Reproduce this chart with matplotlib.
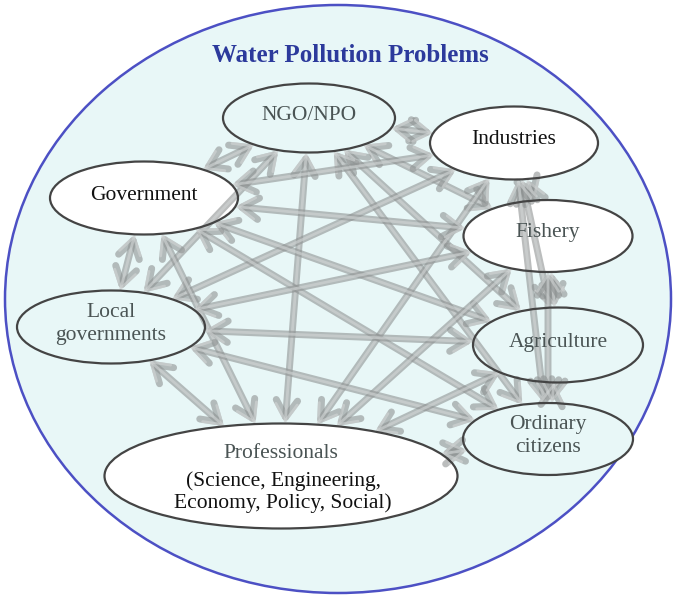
import numpy as np
import matplotlib
matplotlib.use('Agg')
import matplotlib.pyplot as plt
from matplotlib.patches import Ellipse, FancyArrowPatch

# stakeholder nodes (centre x, centre y, width, height) in picture pixels
names = ['NGO/NPO', 'Industries', 'Government', 'Fishery', 'Local\ngovernments',
         'Agriculture', 'Ordinary\ncitizens', 'Professionals']
node_x = [309, 514, 144, 548, 111, 558, 548, 281]
node_y = [118, 143, 198, 236, 327, 345, 439, 476]
node_w = [172, 168, 188, 169, 188, 170, 170, 353]
node_h = [69, 73, 73, 72, 73, 75, 72, 105]
white_fill = [False, True, True, True, False, False, False, True]
dark_text = [False, True, True, False, False, False, False, False]

# every stakeholder is linked to every other one
edges = [(i, j) for i in range(len(names)) for j in range(i + 1, len(names))]

title = 'Water Pollution Problems'
pro_sub = ['(Science, Engineering,', 'Economy, Policy, Social)']

bg = '#e8f7f7'
fig = plt.figure(figsize=(6.74, 5.96), dpi=100)
ax = fig.add_axes([0, 0, 1, 1])
ax.set_xlim(0, 674)
ax.set_ylim(596, 0)
ax.axis('off')

ax.add_patch(Ellipse((338, 299), 666, 588, facecolor=bg, edgecolor='#4c50c4', lw=1.8))
ax.text(350, 55, title, ha='center', va='center', fontsize=18, fontweight='bold',
        color='#2c3a9c', family='Liberation Serif')

for k in range(len(names)):
    ax.add_patch(Ellipse((node_x[k], node_y[k]), node_w[k], node_h[k],
                         facecolor='white' if white_fill[k] else bg, edgecolor='none', zorder=1))


def edge_point(k, tx, ty):
    dx, dy = tx - node_x[k], ty - node_y[k]
    a, b = node_w[k] / 2, node_h[k] / 2
    t = 1 / np.sqrt((dx / a) ** 2 + (dy / b) ** 2)
    return node_x[k] + dx * t, node_y[k] + dy * t


for i, j in edges:
    p = edge_point(i, node_x[j], node_y[j])
    q = edge_point(j, node_x[i], node_y[i])
    for lw, col in [(5.0, '#8e9292'), (2.0, '#d2d6d6')]:
        ax.add_patch(FancyArrowPatch(p, q, arrowstyle='<->,head_length=5.5,head_width=3.5',
                                     mutation_scale=2.2, lw=lw, color=col, alpha=0.6,
                                     shrinkA=0, shrinkB=0, zorder=2))

for k in range(len(names)):
    ax.add_patch(Ellipse((node_x[k], node_y[k]), node_w[k], node_h[k],
                         facecolor='none', edgecolor='#444444', lw=1.6, zorder=3))
    y = node_y[k] - 3
    if k == 7:
        y = node_y[k] - 22
    ax.text(node_x[k], y, names[k], ha='center', va='center', fontsize=15.5,
            color='#111111' if dark_text[k] else '#4a5454', family='Liberation Serif',
            linespacing=1.25, zorder=4)

ax.text(node_x[7] + 2, node_y[7] + 16, '\n'.join(pro_sub), ha='center', va='center',
        fontsize=15.5, color='#111111', family='Liberation Serif', linespacing=1.2, zorder=4)

fig.savefig('out.png', dpi=100)
